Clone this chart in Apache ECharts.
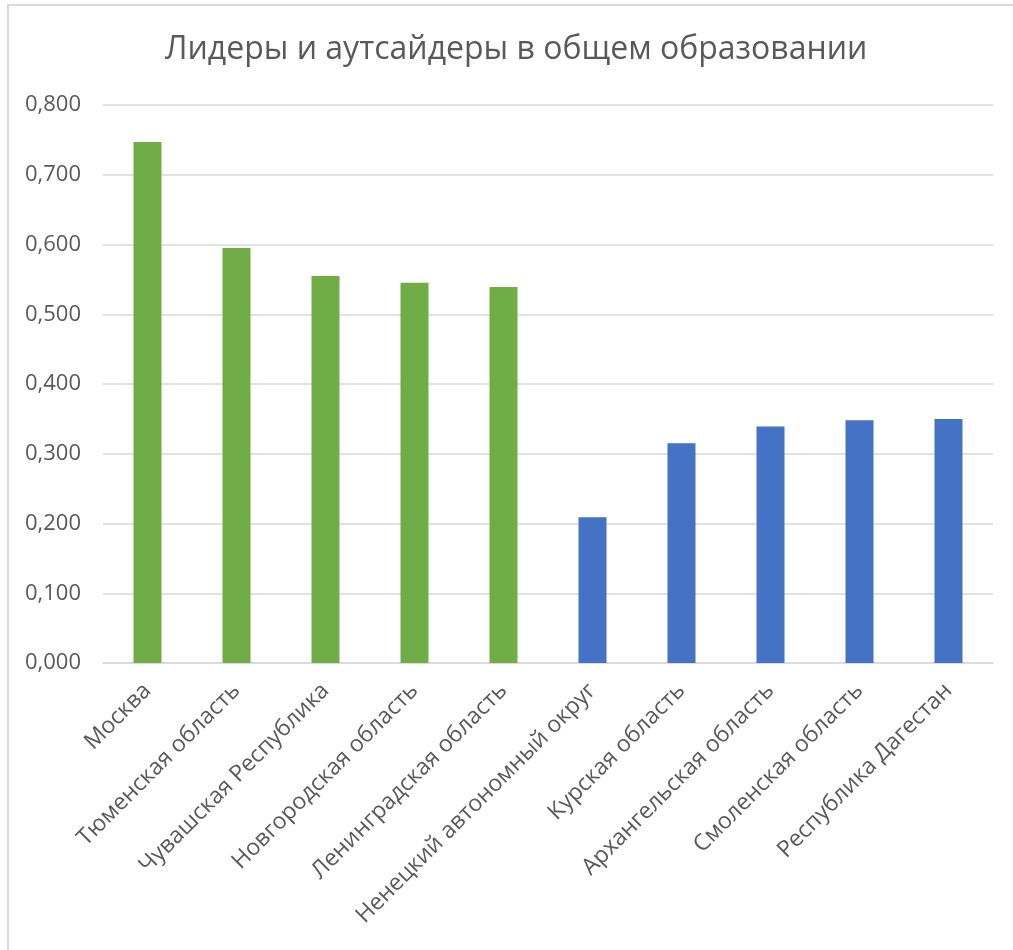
<!DOCTYPE html>
<html>
<head>
<meta charset="utf-8">
<script src="https://cdn.jsdelivr.net/npm/echarts@6/dist/echarts.min.js"></script>
<style>
html,body{margin:0;padding:0;background:#fff;}
#chart{width:1013px;height:950px;}
</style>
</head>
<body>
<div id="chart"></div>
<script>
const titleText = 'Лидеры и аутсайдеры в общем образовании';
const categories = ['Москва','Тюменская область','Чувашская Республика','Новгородская область','Ленинградская область','Ненецкий автономный округ','Курская область','Архангельская область','Смоленская область','Республика Дагестан'];
const values = [0.747, 0.595, 0.555, 0.545, 0.539, 0.209, 0.315, 0.339, 0.348, 0.350];
const leaderCount = 5;
const yTicks = [0, 0.1, 0.2, 0.3, 0.4, 0.5, 0.6, 0.7, 0.8];

const FONT = '"Open Sans", "Noto Sans", sans-serif';
const chart = echarts.init(document.getElementById('chart'));
chart.setOption({
  animation: false,
  backgroundColor: '#fff',
  graphic: [{
    type: 'rect', silent: true,
    shape: { x: 8, y: 5, width: 1100, height: 1000 },
    style: { fill: 'none', stroke: '#d9d9d9', lineWidth: 2 }
  }],
  title: {
    text: titleText, left: 160, top: 29,
    textStyle: { fontFamily: FONT, fontSize: 32, fontWeight: 'normal', color: '#595959' }
  },
  grid: { left: 103, right: 20, top: 105, bottom: 287, containLabel: false },
  xAxis: {
    type: 'category', data: categories,
    axisLine: { lineStyle: { color: '#d9d9d9', width: 1.5 } },
    axisTick: { show: false },
    axisLabel: { rotate: 45, interval: 0, margin: 24, color: '#595959', fontFamily: FONT, fontSize: 23 }
  },
  yAxis: {
    type: 'value', min: yTicks[0], max: yTicks[yTicks.length - 1], interval: 0.1,
    axisLine: { show: false }, axisTick: { show: false },
    splitLine: { lineStyle: { color: '#d9d9d9', width: 1.5 } },
    axisLabel: { margin: 22, color: '#595959', fontFamily: FONT, fontSize: 22,
      formatter: v => v.toFixed(3).replace('.', ',') }
  },
  series: [{
    type: 'bar', data: values, barWidth: 28,
    itemStyle: { color: p => p.dataIndex < leaderCount ? '#70AD47' : '#4472C4' }
  }]
});
</script>
</body>
</html>
